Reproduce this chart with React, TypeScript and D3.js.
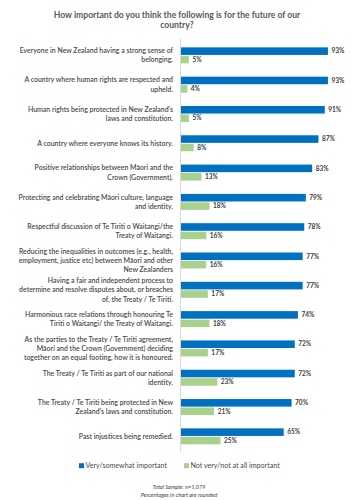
import React from "react";
import * as d3 from "d3";

const categories: string[] = [
  "Everyone in New Zealand having a strong sense of\nbelonging.",
  "A country where human rights are respected and\nupheld.",
  "Human rights being protected in New Zealand's\nlaws and constitution.",
  "A country where everyone knows its history.",
  "Positive relationships between Māori and the\nCrown (Government).",
  "Protecting and celebrating Māori culture, language\nand identity.",
  "Respectful discussion of Te Tiriti o Waitangi/the\nTreaty of Waitangi.",
  "Reducing the inequalities in outcomes (e.g., health,\nemployment, justice etc) between Māori and other\nNew Zealanders",
  "Having a fair and independent process to\ndetermine and resolve disputes about, or breaches\nof, the Treaty / Te Tiriti.",
  "Harmonious race relations through honouring Te\nTiriti o Waitangi/ the Treaty of Waitangi.",
  "As the parties to the Treaty / Te Tiriti agreement,\nMāori and the Crown (Government) deciding\ntogether on an equal footing, how it is honoured.",
  "The Treaty / Te Tiriti as part of our national\nidentity.",
  "The Treaty / Te Tiriti being protected in New\nZealand's laws and constitution.",
  "Past injustices being remedied.",
];
const important: number[] = [93, 93, 91, 87, 83, 79, 78, 77, 77, 74, 72, 72, 70, 65];
const notImportant: number[] = [5, 4, 5, 8, 13, 18, 16, 16, 17, 18, 17, 23, 21, 25];
const seriesNames: string[] = ["Very/somewhat important", "Not very/not at all important"];
const titleLines: string[] = ["How important do you think the following is for the future of our", "country?"];
const footerLines: string[] = ["Total Sample: n=1,079", "Percentages in chart are rounded"];

const W = 360;
const H = 500;
const BLUE = "#0070C0";
const GREEN = "#A9D18E";
const FONT = "Lato, 'Liberation Sans', sans-serif";
const TEXT = "#4a4a4a";

export default function App() {
  const x = d3.scaleLinear().domain([0, 100]).range([181, 339]);
  const y = d3
    .scaleBand<number>()
    .domain(d3.range(categories.length))
    .range([40.7, 451])
    .paddingInner(0)
    .paddingOuter(0);
  const series = [important, notImportant];
  const colors = [BLUE, GREEN];

  return (
    <svg
      width={W}
      height={H}
      style={{ position: "absolute", left: 0, top: 0, background: "#fff" }}
      fontFamily={FONT}
    >
      {titleLines.map((t, i) => (
        <text
          key={"t" + i}
          x={177}
          y={18 + i * 10}
          textAnchor="middle"
          fontSize={8.6}
          fontWeight={700}
          fill="#595959"
        >
          {t}
        </text>
      ))}
      <line x1={180.5} x2={180.5} y1={38} y2={452} stroke="#d9d9d9" strokeWidth={1} />
      {categories.map((cat, i) => {
        const c = (y(i) as number) + y.bandwidth() / 2;
        const sub = d3.scaleBand<number>().domain([0, 1]).range([c - 8, c + 8]).paddingInner(0.1);
        const lines = cat.split("\n");
        const lh = 9.3;
        return (
          <g key={i}>
            {lines.map((ln, j) => (
              <text
                key={j}
                x={173}
                y={c + (j - (lines.length - 1) / 2) * lh}
                dy="0.35em"
                textAnchor="end"
                fontSize={6.95}
                fontWeight={600}
                fill={TEXT}
              >
                {ln}
              </text>
            ))}
            {series.map((s, k) => (
              <g key={k}>
                <rect
                  x={x(0)}
                  y={sub(k) as number}
                  width={x(s[i]) - x(0)}
                  height={sub.bandwidth()}
                  fill={colors[k]}
                />
                <text
                  x={x(s[i]) + 3.5}
                  y={(sub(k) as number) + sub.bandwidth() / 2}
                  dy="0.35em"
                  fontSize={6.5}
                  fontWeight={700}
                  fill="#404040"
                >
                  {s[i] + "%"}
                </text>
              </g>
            ))}
          </g>
        );
      })}
      {seriesNames.map((n, k) => {
        const lx = [79, 184][k];
        return (
          <g key={"l" + k}>
            <rect x={lx} y={463.2} width={5} height={5} fill={colors[k]} />
            <text x={lx + 6.5} y={465.8} dy="0.35em" fontSize={7.1} fill={TEXT}>
              {n}
            </text>
          </g>
        );
      })}
      {footerLines.map((f, i) => (
        <text
          key={"f" + i}
          x={179}
          y={487 + i * 8}
          dy="0.35em"
          textAnchor="middle"
          fontSize={5.6}
          fontStyle="italic"
          fill="#404040"
        >
          {f}
        </text>
      ))}
    </svg>
  );
}
